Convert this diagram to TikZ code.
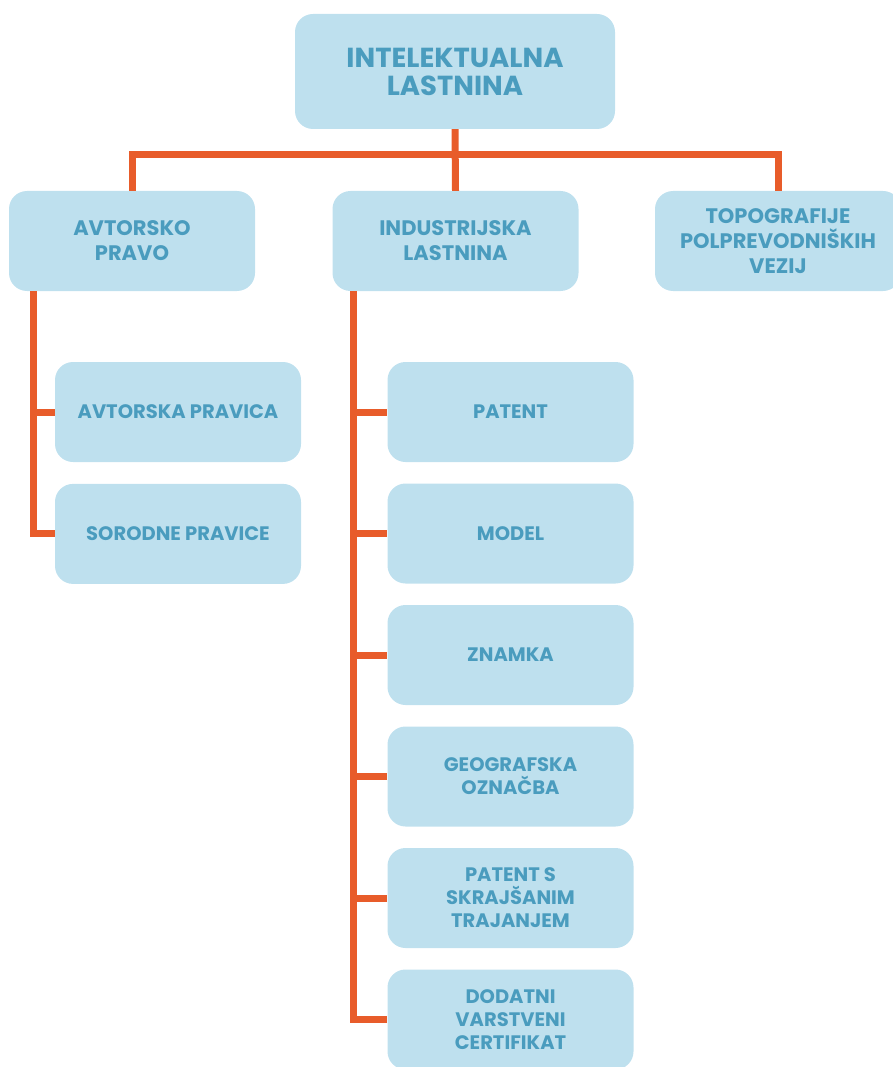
\documentclass[tikz,border=0pt]{standalone}
\usepackage{fontspec}
\setmainfont{Poppins}
\usetikzlibrary{positioning}

\definecolor{boxfill}{HTML}{BEE0EE}
\definecolor{boxtext}{HTML}{4A9CBE}
\definecolor{branchline}{HTML}{E85C2A}

\begin{document}
\begin{tikzpicture}[x = 1pt, y = -1pt,
	box/.style = {fill = boxfill, text = boxtext, rounded corners = 18pt,
		minimum width = 246pt, minimum height = 100pt, align = center,
		font = \bfseries\fontsize{21}{25}\selectfont, inner sep = 0pt},
	rootbox/.style = {box, minimum width = 320pt, minimum height = 115pt,
		font = \bfseries\fontsize{27.5}{28}\selectfont},
	leafbox/.style = {box, font = \bfseries\fontsize{19.5}{23}\selectfont},
	branch/.style = {draw = branchline, line width = 7pt}]

	% Definitions

	\def\spacing{121.5}		% Vertical distance between leaf boxes
	\def\firstleaf{412}		% y of the first leaf box

	\useasboundingbox (0, 0) rectangle (893, 1067);

	% Boxes

	\node [rootbox] (root) at (455, 71.5) {INTELEKTUALNA\\LASTNINA};

	\node [box] (avtorsko) at (132, 241) {AVTORSKO\\PRAVO};
	\node [box] (industrijska) at (455.5, 241) {INDUSTRIJSKA\\LASTNINA};
	\node [box] (topografije) at (778, 241) {TOPOGRAFIJE\\POLPREVODNIŠKIH\\VEZIJ};

	\node [leafbox] (pravica) at (178, \firstleaf) {AVTORSKA PRAVICA};
	\node [leafbox, below = 21.5pt of pravica] (sorodne) {SORODNE PRAVICE};

	% Trunks of the two sub trees

	\coordinate (trunkA) at (33, 0);
	\coordinate (trunkI) at (353, 0);

	% Top level branches

	\draw [branch] (root.south) -- (industrijska.north);
	\draw [branch] (avtorsko.north) -- ++(0, -36) -| (topografije.north);

	% Copyright branches

	\draw [branch] (avtorsko.south -| trunkA) |- (sorodne.west);
	\draw [branch] (trunkA |- pravica.west) -- (pravica.west);

	% Industrial property leaves

	\foreach \name/\label [count = \i from 0] in
		{patent/PATENT, model/MODEL, znamka/ZNAMKA,
		 oznacba/{GEOGRAFSKA\\OZNAČBA},
		 skrajsan/{PATENT S\\SKRAJŠANIM\\TRAJANJEM},
		 certifikat/{DODATNI\\VARSTVENI\\CERTIFIKAT}}
	{
		\node [leafbox] (\name) at (510.5, {\firstleaf + \i * \spacing}) {\label};
		\draw [branch] (trunkI |- \name.west) -- (\name.west);
	}

	\draw [branch] (industrijska.south -| trunkI) |- (certifikat.west);

\end{tikzpicture}
\end{document}
